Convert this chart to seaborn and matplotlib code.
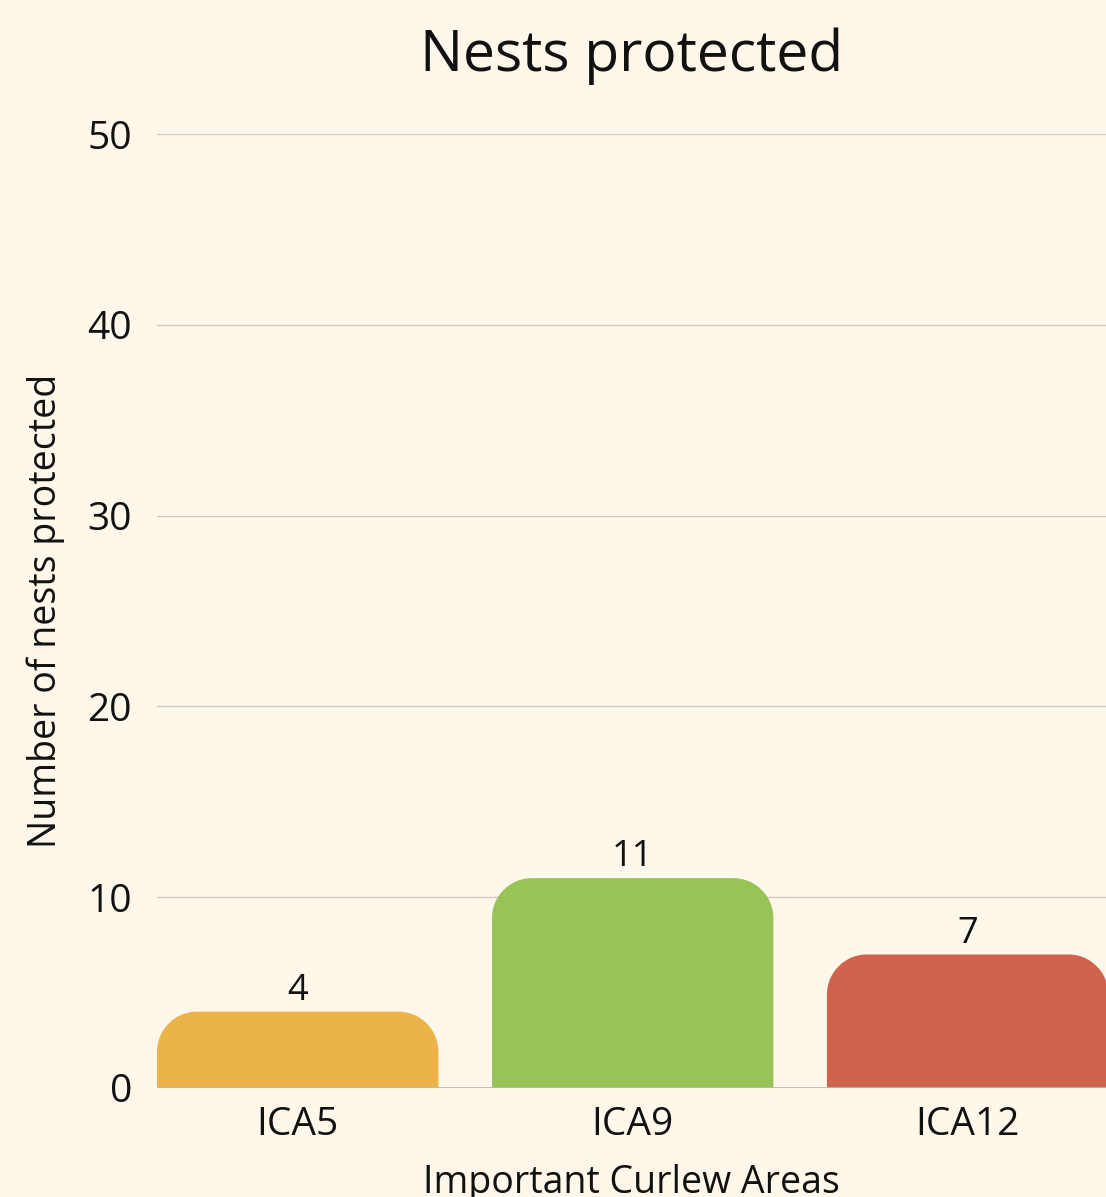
import matplotlib
matplotlib.use("Agg")
import matplotlib.pyplot as plt
import seaborn as sns
import pandas as pd
from matplotlib.path import Path
from matplotlib.patches import PathPatch

# data
areas = ["ICA5", "ICA9", "ICA12"]
nests = [4, 11, 7]
colors = ["#EBB34A", "#97C457", "#D0634B"]

BG = "#FFF7E9"

sns.set_theme(style="whitegrid")
plt.rcParams["font.family"] = ["Open Sans", "DejaVu Sans"]

df = pd.DataFrame({"area": areas, "nests": nests})

fig = plt.figure(figsize=(11.06, 11.97), dpi=100, facecolor=BG)
ax = fig.add_axes([157 / 1106, 109 / 1197, (1106 - 157) / 1106, 954 / 1197])
ax.set_facecolor(BG)

sns.barplot(data=df, x="area", y="nests", hue="area", palette=colors,
            width=0.84, legend=False, ax=ax)

ax.set_xlim(-0.42, 2.413)
ax.set_ylim(0, 50)
ax.set_yticks([0, 10, 20, 30, 40, 50])

# swap the plain bars for ones with rounded top corners
px_x = 949 / (2.413 + 0.42)
px_y = 954 / 50
rx, ry = 40 / px_x, 40 / px_y
k = 0.5523
for patch, col in zip(list(ax.patches), colors):
    x0 = patch.get_x()
    x1 = x0 + patch.get_width()
    h = patch.get_height()
    patch.remove()
    verts = [(x0, 0), (x0, h - ry),
             (x0, h - ry + k * ry), (x0 + rx - k * rx, h), (x0 + rx, h),
             (x1 - rx, h),
             (x1 - rx + k * rx, h), (x1, h - ry + k * ry), (x1, h - ry),
             (x1, 0), (x0, 0)]
    codes = [Path.MOVETO, Path.LINETO,
             Path.CURVE4, Path.CURVE4, Path.CURVE4,
             Path.LINETO,
             Path.CURVE4, Path.CURVE4, Path.CURVE4,
             Path.LINETO, Path.CLOSEPOLY]
    ax.add_patch(PathPatch(Path(verts, codes), facecolor=col, edgecolor="none", zorder=3))

for i, v in enumerate(nests):
    ax.annotate(str(v), (i, v), xytext=(0, 2), textcoords="offset points",
                ha="center", va="bottom", fontsize=26, color="#111111")

ax.grid(axis="x", visible=False)
ax.grid(axis="y", color="#CFCBC2", linewidth=1)
ax.axhline(0, color="#BDB8AE", linewidth=1.2, zorder=4)
for s in ax.spines.values():
    s.set_visible(False)

ax.tick_params(axis="y", length=0, pad=18, labelsize=28, labelcolor="#111111")
ax.tick_params(axis="x", length=0, pad=13, labelsize=28, labelcolor="#111111")

# the reference crops this label at the bottom edge too
ax.set_xlabel("Important Curlew Areas", fontsize=27, color="#111111", labelpad=14)
ax.set_ylabel("Number of nests protected", fontsize=27, color="#111111", labelpad=16)
fig.text(632 / 1106, 1 - 56 / 1197, "Nests protected", ha="center", va="center",
         fontsize=41, color="#111111")

fig.savefig("out.png", dpi=100, facecolor=BG)
